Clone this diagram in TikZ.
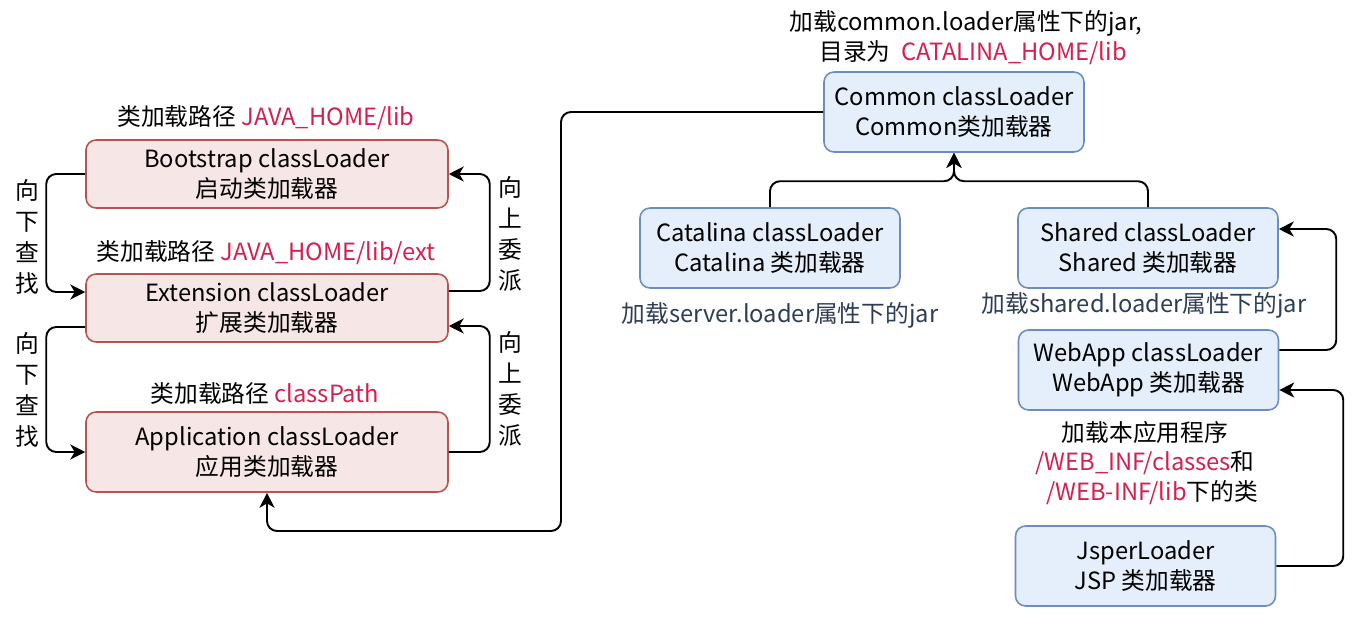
\documentclass[tikz,border=0pt]{standalone}
\usepackage{fontspec}
\setmainfont{Noto Sans CJK SC}
\usetikzlibrary{arrows.meta}
\definecolor{redfill}{HTML}{F7E6E6}
\definecolor{redline}{HTML}{B85450}
\definecolor{bluefill}{HTML}{E5EEFB}
\definecolor{blueline}{HTML}{6C8EBF}
\definecolor{hl}{HTML}{D5204F}
\definecolor{slate}{HTML}{2E3D55}
\begin{document}
\begin{tikzpicture}[x=0.02cm,y=-0.02cm,
 font=\fontsize{13.5}{17}\selectfont,
 redbox/.style={draw=redline, fill=redfill, rounded corners=0.2cm, line width=0.9pt, align=center, minimum width=7.24cm, minimum height=1.36cm, inner sep=0pt},
 bluebox/.style={draw=blueline, fill=bluefill, rounded corners=0.2cm, line width=0.9pt, align=center, minimum width=5.2cm, minimum height=1.6cm, inner sep=0pt},
 lbl/.style={align=center, inner sep=1pt},
 vlbl/.style={align=center, inner sep=0pt, font=\fontsize{13.5}{17.5}\selectfont},
 conn/.style={-{Stealth[length=8.5pt,width=8.5pt,inset=2.5pt]}, line width=1.1pt, rounded corners=0.2cm}]
\useasboundingbox (0,0) rectangle (1362,622);
% left boxes
\node[redbox] (boot) at (267,174) {Bootstrap classLoader\\启动类加载器};
\node[redbox] (ext) at (267,308) {Extension classLoader\\扩展类加载器};
\node[redbox, minimum height=1.6cm] (app) at (267,452) {Application classLoader\\应用类加载器};
\node[lbl] (lboot) at (266,118) {类加载路径 \textcolor{hl}{JAVA\_HOME/lib}};
\node[lbl] (lext) at (266,253) {类加载路径 \textcolor{hl}{JAVA\_HOME/lib/ext}};
\node[lbl] (lapp) at (265,393) {类加载路径 \textcolor{hl}{classPath}};
\node[vlbl] (down1) at (27,237) {向\\下\\查\\找};
\node[vlbl] (down2) at (27,390) {向\\下\\查\\找};
\node[vlbl] (up1) at (510,234) {向\\上\\委\\派};
\node[vlbl] (up2) at (510,389) {向\\上\\委\\派};
% right boxes
\node[bluebox] (common) at (954,112) {Common classLoader\\Common类加载器};
\node[bluebox] (cat) at (770,248) {Catalina classLoader\\Catalina 类加载器};
\node[bluebox] (shared) at (1148,248) {Shared classLoader\\Shared 类加载器};
\node[bluebox] (web) at (1148.5,370) {WebApp classLoader\\WebApp 类加载器};
\node[bluebox] (jsp) at (1145.5,566) {JsperLoader\\JSP 类加载器};
\node[lbl] (tcommon) at (966,38) {加载common.loader属性下的jar,\\\hspace{0.6em}目录为 \ \textcolor{hl}{CATALINA\_HOME/lib}};
\node[lbl, text=slate] (tcat) at (780,315) {加载server.loader属性下的jar};
\node[lbl, text=slate] (tshared) at (1144,305) {加载shared.loader属性下的jar};
\node[lbl] (tweb) at (1145,463) {加载本应用程序\\\textcolor{hl}{/WEB\_INF/classes}和\\\hspace{0.6em}\textcolor{hl}{/WEB-INF/lib}下的类};
% connectors
\draw[conn] (boot.west) -- ++(-39,0) |- ([yshift=0.32cm]ext.west);
\draw[conn] ([yshift=-0.38cm]ext.west) -- ++(-39,0) |- (app.west);
\draw[conn] ([yshift=0.34cm]ext.east) -- ++(41,0) |- (boot.east);
\draw[conn] (app.east) -- ++(41,0) |- ([yshift=-0.36cm]ext.east);
\draw[conn] (common.west) -| (561,531) -| (app.south);
\draw[conn] (cat.north) -- ++(0,-26) -| (common.south);
\draw[conn] (shared.north) -- ++(0,-26) -| (common.south);
\draw[conn] ([yshift=0.4cm]web.east) -- ++(57,0) |- ([yshift=0.38cm]shared.east);
\draw[conn] (jsp.east) -- ++(67,0) |- ([yshift=-0.4cm]web.east);
\end{tikzpicture}
\end{document}
